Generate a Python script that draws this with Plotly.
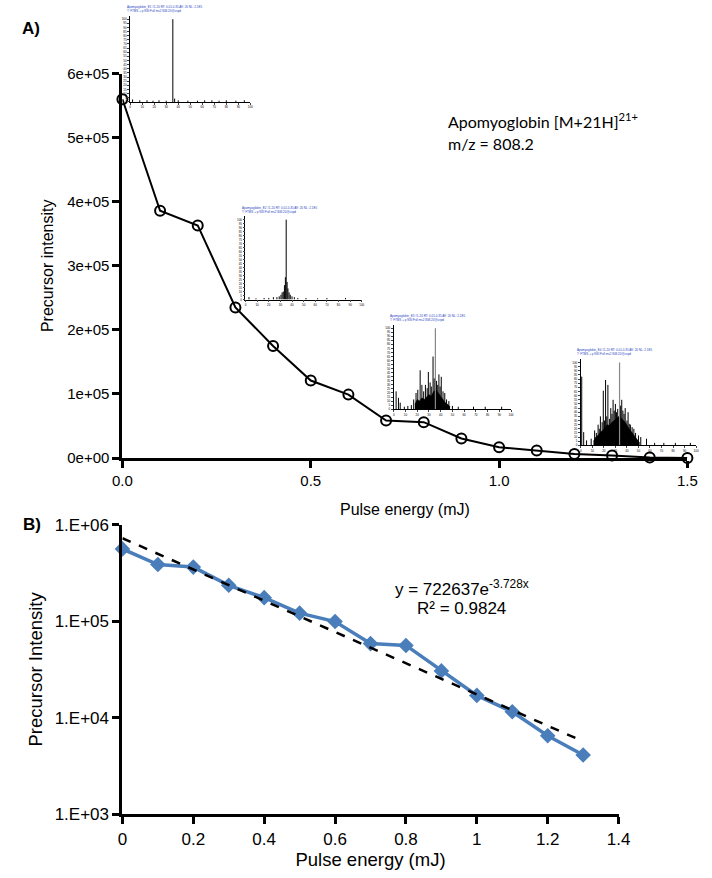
import plotly.graph_objects as go
import math

# ---------------- data ----------------
pulse_energy_a = [0.0, 0.1, 0.2, 0.3, 0.4, 0.5, 0.6, 0.7, 0.8, 0.9, 1.0, 1.1, 1.2, 1.3, 1.4, 1.5]
precursor_a = [560000, 386000, 363000, 235000, 175000, 121000, 99000, 58500, 56000,
               30500, 17000, 11800, 6500, 4100, 800, 200]

pulse_energy_b = [0.0, 0.1, 0.2, 0.3, 0.4, 0.5, 0.6, 0.7, 0.8, 0.9, 1.0, 1.1, 1.2, 1.3]
precursor_b = [560000, 386000, 363000, 235000, 175000, 121000, 99000, 58500, 56000,
               30500, 17000, 11500, 6500, 4100]

fit_a = 722637
fit_b = -3.728
fit_x = [0.0, 1.3]

a_yticks = [0, 100000, 200000, 300000, 400000, 500000, 600000]
a_yticklabels = ["0e+00", "1e+05", "2e+05", "3e+05", "4e+05", "5e+05", "6e+05"]
a_xticks = [0, 0.5, 1.0, 1.5]
a_xticklabels = ["0.0", "0.5", "1.0", "1.5"]
b_yticks = [1e3, 1e4, 1e5, 1e6]
b_yticklabels = ["1.E+03", "1.E+04", "1.E+05", "1.E+06"]
b_xticks = [0, 0.2, 0.4, 0.6, 0.8, 1.0, 1.2, 1.4]
b_xticklabels = ["0", "0.2", "0.4", "0.6", "0.8", "1", "1.2", "1.4"]

# inset spectra (relative m/z position 0-100, relative intensity 0-100)
spec1_mz = [2, 8, 14, 19, 24, 30, 35.5, 37, 40, 48, 56, 62, 68, 74, 80, 88, 95]
spec1_int = [3, 2, 2, 1.5, 2, 1.5, 100, 4, 2, 1.5, 1.5, 2, 2, 1.5, 2, 1.5, 2]

spec2_mz = [3, 9, 16, 20, 24, 27, 29, 30.5, 31.5, 32.5, 33.5, 34.3, 35, 35.8, 36.5, 37.5, 38.5, 40, 42, 45, 52, 62, 70, 86]
spec2_int = [3, 1.5, 2, 2, 3, 3, 4, 6, 9, 10, 18, 28, 100, 22, 14, 9, 6, 4, 3, 2, 2, 1.5, 2, 2]

spec3_mz = [2, 4, 5.5, 9, 12, 15, 17, 19, 20.5, 22.5, 24, 25.5, 27, 28.5, 29.5, 31, 32, 33.5, 34.5, 35.5, 36.5, 37.5, 38.5, 39.5, 40.5, 42, 43.5, 45, 47, 50, 55, 68, 78, 92]
spec3_int = [22, 14, 8, 3, 4, 5, 12, 20, 24, 48, 30, 22, 30, 26, 46, 33, 28, 65, 38, 100, 35, 30, 43, 28, 40, 22, 20, 12, 10, 4, 3, 3, 3, 3]

spec4_mz = [0.8, 2.5, 5, 9, 12, 13.5, 15, 16, 17, 18.5, 19.5, 20.5, 21.5, 22.5, 23.5, 25, 26, 27, 28, 29, 30, 31, 32, 33.6, 34.5, 35.5, 36.5, 37.5, 38.5, 40, 41, 42, 43, 44.5, 46, 47.5, 50, 52, 57, 64, 72, 82, 95]
spec4_int = [83, 16, 6, 8, 18, 15, 25, 20, 35, 28, 66, 30, 79, 35, 73, 32, 45, 38, 55, 42, 50, 40, 44, 100, 48, 55, 42, 38, 45, 30, 40, 26, 25, 22, 20, 15, 12, 10, 8, 3, 3, 3, 3]

spec3_env_mz = [18, 20, 22, 24, 26, 28, 30, 32, 34, 36, 38, 40, 42, 44, 46, 48]
spec3_env_int = [6, 12, 10, 14, 12, 15, 18, 16, 22, 24, 20, 16, 12, 8, 6, 3]
spec4_env_mz = [11, 13, 15, 17, 19, 21, 23, 25, 27, 29, 31, 33, 35, 37, 39, 41, 43, 45, 47, 49, 51]
spec4_env_int = [5, 10, 12, 16, 18, 22, 25, 24, 28, 30, 32, 35, 33, 30, 27, 22, 18, 14, 10, 6, 3]

W, H = 712, 878


def px(x):
    return x / W


def py(y):
    return 1 - y / H


fig = go.Figure()

# ---------------- Panel A ----------------
fig.add_trace(go.Scatter(
    x=pulse_energy_a, y=precursor_a, mode="lines+markers",
    line=dict(color="black", width=2),
    marker=dict(symbol="circle-open", size=10, color="black", line=dict(width=2)),
    xaxis="x", yaxis="y", cliponaxis=False, showlegend=False))

# ---------------- Panel B ----------------
fig.add_trace(go.Scatter(
    x=pulse_energy_b, y=precursor_b, mode="lines+markers",
    line=dict(color="#4A7EBB", width=3.5),
    marker=dict(symbol="diamond", size=12, color="#4A7EBB"),
    xaxis="x2", yaxis="y2", cliponaxis=False, showlegend=False))

fit_y = [fit_a * math.exp(fit_b * xv) for xv in fit_x]
fig.add_trace(go.Scatter(
    x=fit_x, y=fit_y, mode="lines",
    line=dict(color="black", width=2.5, dash="dash"),
    xaxis="x2", yaxis="y2", cliponaxis=False, showlegend=False))

# ---------------- insets ----------------
insets = [
    (spec1_mz, spec1_int, None, None, (124, 248), (7, 95), "black"),
    (spec2_mz, spec2_int, None, None, (243, 363), (212, 297), "black"),
    (spec3_mz, spec3_int, spec3_env_mz, spec3_env_int, (396, 517), (323, 409), "#888888"),
    (spec4_mz, spec4_int, spec4_env_mz, spec4_env_int, (589, 708), (358, 446), "#888888"),
]

for i, (mz, inten, emz, eint, xr, yr, topcol) in enumerate(insets):
    xa = "x%d" % (i + 3)
    ya = "y%d" % (i + 3)
    if emz is not None:
        fig.add_trace(go.Scatter(x=emz, y=eint, mode="lines", fill="tozeroy",
                                 fillcolor="black", line=dict(color="black", width=0.5),
                                 xaxis=xa, yaxis=ya, showlegend=False, hoverinfo="skip"))
    sx, sy = [], []
    tx, ty = [], []
    top = max(inten)
    for m, v in zip(mz, inten):
        if v == top and topcol != "black":
            tx += [m, m, None]
            ty += [0, v, None]
        else:
            sx += [m, m, None]
            sy += [0, v, None]
    fig.add_trace(go.Scatter(x=sx, y=sy, mode="lines", line=dict(color="black", width=1),
                             xaxis=xa, yaxis=ya, showlegend=False, hoverinfo="skip"))
    if tx:
        fig.add_trace(go.Scatter(x=tx, y=ty, mode="lines", line=dict(color=topcol, width=1.2),
                                 xaxis=xa, yaxis=ya, showlegend=False, hoverinfo="skip"))
    fig.update_layout(**{
        "xaxis%d" % (i + 3): dict(domain=[px(xr[0]), px(xr[1])], range=[0, 100], anchor=ya,
                                  showline=True, linecolor="black", linewidth=0.8,
                                  ticks="outside", ticklen=2, tickwidth=0.5, dtick=10,
                                  tickfont=dict(size=3, color="black"), showgrid=False,
                                  zeroline=False, fixedrange=True),
        "yaxis%d" % (i + 3): dict(domain=[py(yr[1]), py(yr[0])], range=[0, 104], anchor=xa,
                                  showline=True, linecolor="black", linewidth=0.8,
                                  ticks="outside", ticklen=2, tickwidth=0.5, dtick=5,
                                  tickfont=dict(size=3, color="black"), showgrid=False,
                                  zeroline=False, fixedrange=True),
    })
    fig.add_annotation(text="Apomyoglobin_E%d #1-20 RT: 0.01-0.35 AV: 20 NL: 2.1E5<br>T: FTMS + p NSI Full ms2 808.20@uvpd" % (i + 1),
                       x=px(xr[0]) - 0.008, y=py(yr[0]) + 0.001, xref="paper", yref="paper",
                       xanchor="left", yanchor="bottom", showarrow=False, align="left",
                       font=dict(size=3, color="#1f3fbf", family="Liberation Sans"))

axis_common = dict(showline=True, linecolor="black", linewidth=3, ticks="outside",
                   ticklen=7, tickwidth=3, tickcolor="black", showgrid=False, zeroline=False,
                   fixedrange=True)

fig.update_layout(
    width=W, height=H, margin=dict(l=0, r=0, t=0, b=0),
    paper_bgcolor="white", plot_bgcolor="rgba(0,0,0,0)",
    font=dict(family="Liberation Sans, Arial, sans-serif", color="black"),
    showlegend=False,
    xaxis=dict(domain=[px(116), px(699)], range=[0, 1.5], anchor="y",
               tickvals=a_xticks, ticktext=a_xticklabels, tickfont=dict(size=15),
               title=dict(text="Pulse energy (mJ)", font=dict(size=16), standoff=16),
               **axis_common),
    yaxis=dict(domain=[py(459), py(66)], range=[0, 600000], anchor="x",
               tickvals=a_yticks, ticktext=a_yticklabels, tickfont=dict(size=15),
               title=dict(text="Precursor intensity", font=dict(size=16), standoff=10),
               **axis_common),
    xaxis2=dict(domain=[px(116), px(628)], range=[0, 1.4], anchor="y2",
                tickvals=b_xticks, ticktext=b_xticklabels, tickfont=dict(size=17),
                title=dict(text="Pulse energy (mJ)", font=dict(size=18.5), standoff=4),
                **axis_common),
    yaxis2=dict(domain=[py(823), py(527)], type="log", range=[3, 6], anchor="x2",
                tickvals=b_yticks, ticktext=b_yticklabels, tickfont=dict(size=17),
                title=dict(text="Precursor Intensity", font=dict(size=18.5), standoff=8),
                **axis_common),
)

fig.add_annotation(text="<b>A)</b>", x=px(10), y=py(20), xref="paper", yref="paper",
                   xanchor="left", yanchor="middle", showarrow=False, font=dict(size=17))
fig.add_annotation(text="<b>B)</b>", x=px(11), y=py(527), xref="paper", yref="paper",
                   xanchor="left", yanchor="middle", showarrow=False, font=dict(size=17))
fig.add_annotation(text="Apomyoglobin [M+21H]<sup>21+</sup>", x=px(450), y=py(114),
                   xref="paper", yref="paper", xanchor="left", yanchor="middle",
                   showarrow=False, font=dict(size=16, family="Lato, Carlito, sans-serif"))
fig.add_annotation(text="m/z = 808.2", x=px(450), y=py(137),
                   xref="paper", yref="paper", xanchor="left", yanchor="middle",
                   showarrow=False, font=dict(size=16, family="Lato, Carlito, sans-serif"))
fig.add_annotation(text="y = 722637e<sup>-3.728x</sup>", x=px(466), y=py(592),
                   xref="paper", yref="paper", xanchor="center", yanchor="middle",
                   showarrow=False, font=dict(size=17))
fig.add_annotation(text="R² = 0.9824", x=px(466), y=py(613),
                   xref="paper", yref="paper", xanchor="center", yanchor="middle",
                   showarrow=False, font=dict(size=17))

fig.write_html("out.html")
